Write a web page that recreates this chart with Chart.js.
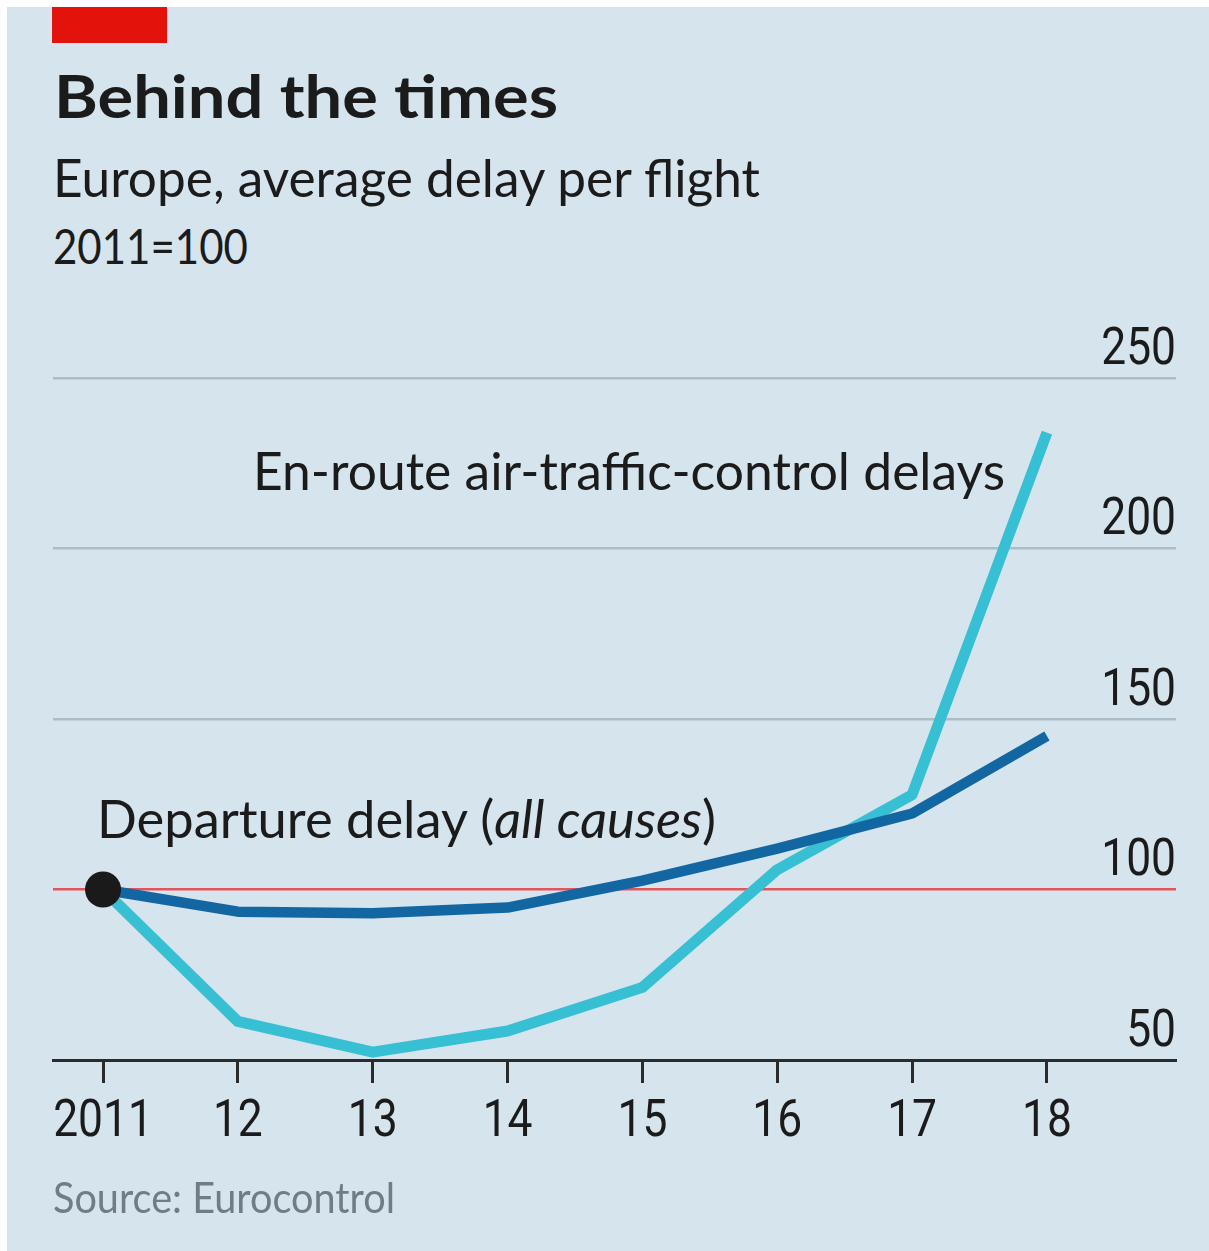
<!DOCTYPE html>
<html>
<head>
<meta charset="utf-8">
<script src="https://cdn.jsdelivr.net/npm/chart.js@4.4.0/dist/chart.umd.min.js"></script>
<style>
  html, body { margin: 0; padding: 0; background: #fff; }
  body { width: 1209px; height: 1251px; position: relative; overflow: hidden; }
  #panel { position: absolute; left: 7px; top: 7px; right: 0; bottom: 0; background: #d6e4ee; }
  #redbar { position: absolute; left: 52px; top: 7px; width: 115px; height: 36px; background: #e3120b; }
  .txt {
    position: absolute; white-space: nowrap; line-height: 1;
    font-family: Lato, "Open Sans", sans-serif; color: #1b1b1b;
    transform-origin: 0 0;
  }
  #chart { position: absolute; left: 0; top: 0; }
</style>
</head>
<body>
<div id="panel"></div>
<div id="redbar"></div>
<div class="txt" data-w="504" style="left:54px; top:65px; font-size:60px; font-weight:700;">Behind the times</div>
<div class="txt" data-w="707" style="left:53px; top:150px; font-size:53px;">Europe, average delay per flight</div>
<div class="txt" data-w="195" style="left:53px; top:221px; font-size:49px;">2011=100</div>
<canvas id="chart" width="1209" height="1251"></canvas>
<div class="txt" data-w="752" style="left:253px; top:443px; font-size:53px;">En-route air-traffic-control delays</div>
<div class="txt" data-w="619" style="left:97px; top:791px; font-size:53px;">Departure delay (<i>all causes</i>)</div>
<div class="txt" data-w="342" style="left:53px; top:1175px; font-size:43px; color:#717c84;">Source: Eurocontrol</div>

<script>
// Europe, average delay per flight, 2011=100
const years = [2011, 2012, 2013, 2014, 2015, 2016, 2017, 2018];
const departureDelay = [100, 93.5, 93, 94.7, 102.6, 112, 122.3, 145];
const enRouteDelay = [100, 61.3, 52.3, 58.5, 71.3, 105.8, 127.8, 234];
const yTicks = [50, 100, 150, 200, 250];

// squeeze text horizontally to the width it has in the print version
document.querySelectorAll('.txt').forEach(el => {
  const w = el.getBoundingClientRect().width;
  el.style.transform = `scaleX(${el.dataset.w / w})`;
});

const tickFont = { family: 'Roboto, sans-serif', size: 51, lineHeight: 1.2 };

// the print font is narrower than anything installed, so squeeze the tick labels a bit
function narrowLabels(scale) {
  if (scale._narrow) return;
  scale._narrow = true;
  const drawLabels = scale.drawLabels.bind(scale);
  scale.drawLabels = (area) => {
    const ctx = scale.ctx;
    const fillText = ctx.fillText;
    ctx.fillText = function (t, x, y) {
      fillText.call(this, t, x, y, this.measureText(t).width * 0.87);
    };
    drawLabels(area);
    ctx.fillText = fillText;
  };
}

new Chart(document.getElementById('chart'), {
  type: 'line',
  data: {
    datasets: [
      {
        label: 'Departure delay (all causes)',
        data: years.map((y, i) => ({ x: y, y: departureDelay[i] })),
        borderColor: '#1267a3',
        borderWidth: 10.5,
        borderJoinStyle: 'round',
        pointRadius: years.map((y, i) => i === 0 ? 18 : 0),
        pointBackgroundColor: '#1a1a1a',
        pointBorderWidth: 0,
        pointHoverRadius: 0
      },
      {
        label: 'En-route air-traffic-control delays',
        data: years.map((y, i) => ({ x: y, y: enRouteDelay[i] })),
        borderColor: '#37bfd3',
        borderWidth: 11,
        borderJoinStyle: 'round',
        pointRadius: 0,
        pointHoverRadius: 0
      }
    ]
  },
  options: {
    responsive: false,
    devicePixelRatio: 1,
    animation: false,
    events: [],
    layout: { padding: { left: 53, right: 33, top: 378, bottom: 0 } },
    plugins: { legend: { display: false }, tooltip: { enabled: false } },
    scales: {
      x: {
        type: 'linear',
        min: 2010.629,
        max: 2018.957,
        afterFit: (scale) => { scale.height = 191; narrowLabels(scale); },
        afterBuildTicks: (scale) => { scale.ticks = years.map(v => ({ value: v })); },
        grid: {
          drawOnChartArea: false,
          drawTicks: true,
          tickLength: 23,
          tickWidth: 3,
          tickColor: '#2b2b2b'
        },
        border: { display: true, color: '#2b2b2b', width: 3 },
        ticks: {
          font: tickFont,
          color: '#1b1b1b',
          padding: 10,
          maxRotation: 0,
          autoSkip: false,
          callback: (v) => v === 2011 ? '2011' : String(v).slice(2)
        }
      },
      y: {
        position: 'right',
        min: 50,
        max: 250,
        afterFit: (scale) => { scale.width = 0; narrowLabels(scale); },
        afterBuildTicks: (scale) => { scale.ticks = yTicks.map(v => ({ value: v })); },
        grid: {
          drawTicks: false,
          color: (ctx) => ctx.tick.value === 100 ? '#e2555b' : (ctx.tick.value === 50 ? '#2b2b2b' : '#adbcc6'),
          lineWidth: (ctx) => ctx.tick.value === 100 ? 2.5 : (ctx.tick.value === 50 ? 3 : 2.5)
        },
        border: { display: false },
        ticks: {
          mirror: true,
          padding: 0,
          labelOffset: -27,
          font: tickFont,
          color: '#1b1b1b'
        }
      }
    }
  }
});
</script>
</body>
</html>
